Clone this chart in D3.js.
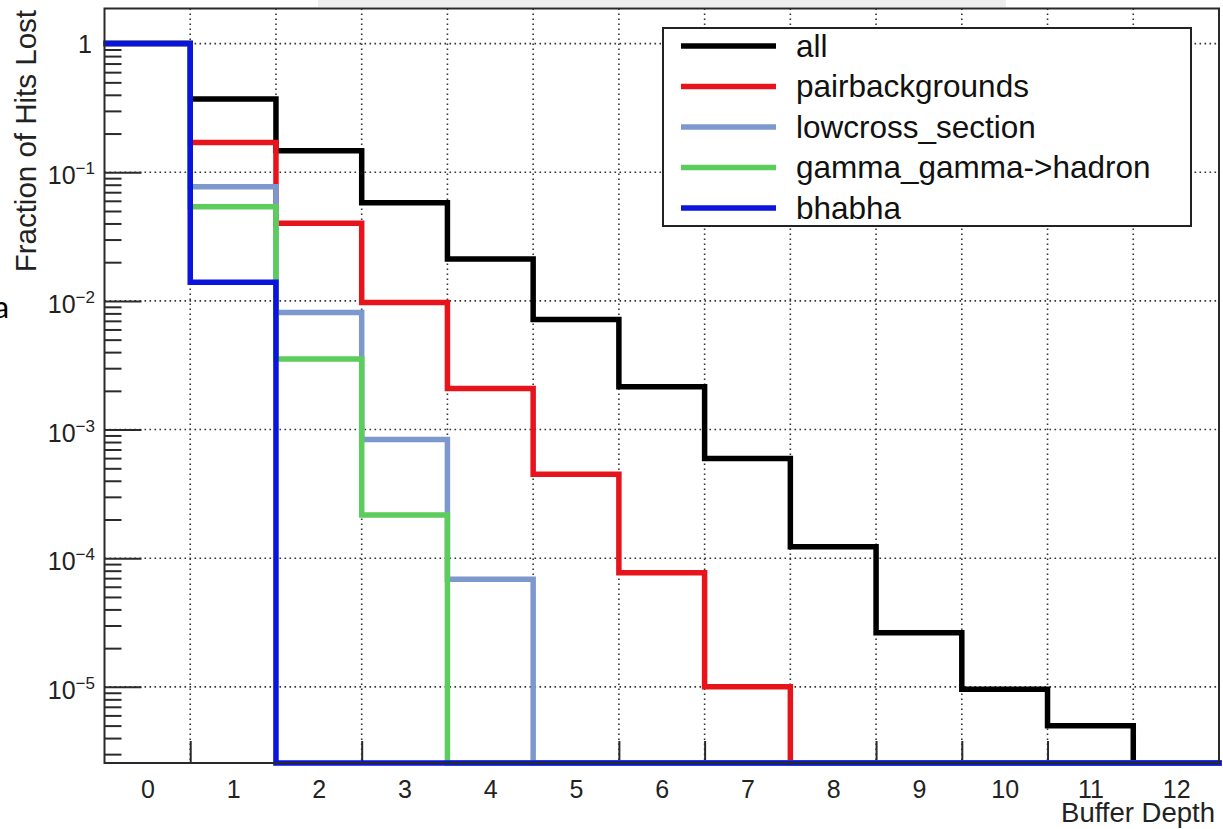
<!DOCTYPE html>
<html>
<head>
<meta charset="utf-8">
<script src="https://cdn.jsdelivr.net/npm/d3@7/dist/d3.min.js"></script>
<style>
  html, body { margin: 0; padding: 0; background: #fff; }
  svg { display: block; font-family: "Liberation Sans", Arial, Helvetica, sans-serif; }
</style>
</head>
<body>
<svg id="chart" width="1223" height="829"></svg>
<script>
// Buffer depth bins (integers 0..12, each bin is one unit wide)
const depths = [0, 1, 2, 3, 4, 5, 6, 7, 8, 9, 10, 11, 12];

// Fraction of hits lost per buffer depth, one array per sample
const all             = [1, 0.371, 0.147, 0.0580, 0.0212, 0.00717, 0.00215, 5.97e-4, 1.23e-4, 2.63e-5, 9.6e-6, 4.98e-6, 0];
const pairbackgrounds = [1, 0.170, 0.0401, 0.00971, 0.00209, 4.50e-4, 7.7e-5, 1.0e-5, 0, 0, 0, 0, 0];
const lowcross        = [1, 0.0772, 0.00812, 8.39e-4, 6.85e-5, 0, 0, 0, 0, 0, 0, 0, 0];
const gammaHadron     = [1, 0.0540, 0.00353, 2.17e-4, 0, 0, 0, 0, 0, 0, 0, 0, 0];
const bhabha          = [1, 0.01395, 0, 0, 0, 0, 0, 0, 0, 0, 0, 0, 0];

const seriesNames  = ["all", "pairbackgrounds", "lowcross_section", "gamma_gamma->hadron", "bhabha"];
const seriesValues = [all, pairbackgrounds, lowcross, gammaHadron, bhabha];
const seriesColors = ["#000000", "#e8141b", "#7d98cc", "#5ccc5c", "#0a14dc"];

// y-axis decade labels (exponents) and x tick labels
const decades = [0, -1, -2, -3, -4, -5];
const xLabels = depths.map(String);

const xTitle = "Buffer Depth";
const yTitle = "Fraction of Hits Lost";

const svg = d3.select("#chart");
const plot = { left: 104.5, right: 1219, top: 8.5, bottom: 763 };

const yMin = 2.56e-6, yMax = 1.875;
const x = d3.scaleLinear().domain([-0.5, 12.5]).range([plot.left, plot.right]);
const y = d3.scaleLog().domain([yMin, yMax]).range([plot.bottom, plot.top]);

// faint strip along the top edge
svg.append("rect").attr("x", 318).attr("y", 0).attr("width", 688).attr("height", 7).attr("fill", "#eeeeee");
// partly visible character at the left edge
svg.append("text").attr("x", 9).attr("y", 318).attr("text-anchor", "end")
  .attr("font-family", "Carlito, 'Liberation Sans', sans-serif").attr("font-size", 32).text("a");

// grid: dotted lines at bin edges and at decades
const gridColor = "#333";
const edges = d3.range(0.5, 12.5, 1);
const grid = svg.append("g");
grid.selectAll("line.v").data(edges).join("line")
  .attr("x1", d => x(d)).attr("x2", d => x(d))
  .attr("y1", plot.top).attr("y2", plot.bottom)
  .attr("stroke", gridColor).attr("stroke-width", 1.6).attr("stroke-dasharray", "1.6 3.4");
grid.selectAll("line.h").data(decades).join("line")
  .attr("x1", plot.left).attr("x2", plot.right)
  .attr("y1", d => y(Math.pow(10, d))).attr("y2", d => y(Math.pow(10, d)))
  .attr("stroke", gridColor).attr("stroke-width", 1.6).attr("stroke-dasharray", "1.6 3.4");

// y axis ticks (inward), major at decades, minor at 2..9
const majorVals = decades.map(e => Math.pow(10, e));
const minorVals = [];
for (let e = -6; e <= 0; e++) for (let m = 2; m <= 9; m++) {
  const v = m * Math.pow(10, e);
  if (v >= yMin && v <= yMax) minorVals.push(v);
}
const axColor = "#2a2a2a";
const yMajor = svg.append("g").attr("transform", `translate(${plot.left},0)`)
  .call(d3.axisLeft(y).tickValues(majorVals).tickSize(-37).tickFormat(""));
const yMinor = svg.append("g").attr("transform", `translate(${plot.left},0)`)
  .call(d3.axisLeft(y).tickValues(minorVals).tickSize(-17).tickFormat(""));
[yMajor, yMinor].forEach(g => {
  g.select(".domain").remove();
  g.selectAll(".tick line").attr("stroke", axColor).attr("stroke-width", 2);
});

// y tick labels: 1 and 10^-n
const yLab = svg.append("g").attr("fill", "#222");
decades.forEach(e => {
  const yy = y(Math.pow(10, e));
  if (e === 0) {
    yLab.append("text").attr("x", 92).attr("y", yy + 9).attr("text-anchor", "end")
      .attr("font-size", 25).text("1");
  } else {
    const t = yLab.append("text").attr("x", 95).attr("y", yy + 12).attr("text-anchor", "end")
      .attr("font-size", 25);
    t.append("tspan").text("10");
    t.append("tspan").attr("font-size", 17).attr("dy", -10).text("\u2212" + (-e));
  }
});

// x axis ticks at bin edges (inward), labels at bin centres
const xAx = svg.append("g").attr("transform", `translate(0,${plot.bottom})`)
  .call(d3.axisBottom(x).tickValues(edges).tickSize(-22).tickFormat(""));
xAx.select(".domain").remove();
xAx.selectAll(".tick line").attr("stroke", axColor).attr("stroke-width", 2);

const xLab = svg.append("g").attr("transform", `translate(0,${plot.bottom})`)
  .call(d3.axisBottom(x).tickValues(depths).tickSize(0).tickPadding(0).tickFormat((d, i) => xLabels[i]));
xLab.select(".domain").remove();
xLab.selectAll(".tick text").attr("font-size", 25).attr("fill", "#222")
  .attr("dy", null).attr("y", 35).attr("font-family", null);

// axis titles
svg.append("text").attr("x", 1215).attr("y", 822).attr("text-anchor", "end")
  .attr("font-size", 27.5).attr("fill", "#222").text(xTitle);
svg.append("text").attr("transform", "translate(36,10) rotate(-90)").attr("text-anchor", "end")
  .attr("font-size", 29.5).attr("fill", "#222").text(yTitle);

// histogram outlines
svg.append("clipPath").attr("id", "plotclip").append("rect")
  .attr("x", plot.left - 1).attr("y", plot.top).attr("width", plot.right - plot.left + 4)
  .attr("height", plot.bottom - plot.top + 4);

const step = d3.line()
  .curve(d3.curveStepAfter)
  .x(d => x(d[0]))
  .y(d => y(Math.max(d[1], yMin)));

const hist = svg.append("g").attr("clip-path", "url(#plotclip)");
seriesValues.forEach((vals, k) => {
  const pts = depths.map((d, i) => [d - 0.5, vals[i]]);
  pts.push([depths[depths.length - 1] + 0.5, vals[vals.length - 1]]);
  hist.append("path").attr("d", step(pts))
    .attr("fill", "none").attr("stroke", seriesColors[k])
    .attr("stroke-width", 5.5).attr("stroke-linejoin", "miter").attr("stroke-linecap", "square");
});

// frame
svg.append("rect").attr("x", plot.left).attr("y", plot.top)
  .attr("width", plot.right - plot.left).attr("height", plot.bottom - plot.top)
  .attr("fill", "none").attr("stroke", axColor).attr("stroke-width", 2);

// legend
const lg = { x: 663, y: 28, w: 528, h: 198 };
const legend = svg.append("g");
legend.append("rect").attr("x", lg.x).attr("y", lg.y).attr("width", lg.w).attr("height", lg.h)
  .attr("fill", "#fff").attr("stroke", "#222").attr("stroke-width", 2);
seriesNames.forEach((name, k) => {
  const cy = 46 + k * 40.5;
  legend.append("line").attr("x1", 681).attr("x2", 776).attr("y1", cy).attr("y2", cy)
    .attr("stroke", seriesColors[k]).attr("stroke-width", 5.5);
  legend.append("text").attr("x", 796).attr("y", cy + 10.5).attr("font-size", 31.5)
    .attr("fill", "#111").text(name);
});
</script>
</body>
</html>
